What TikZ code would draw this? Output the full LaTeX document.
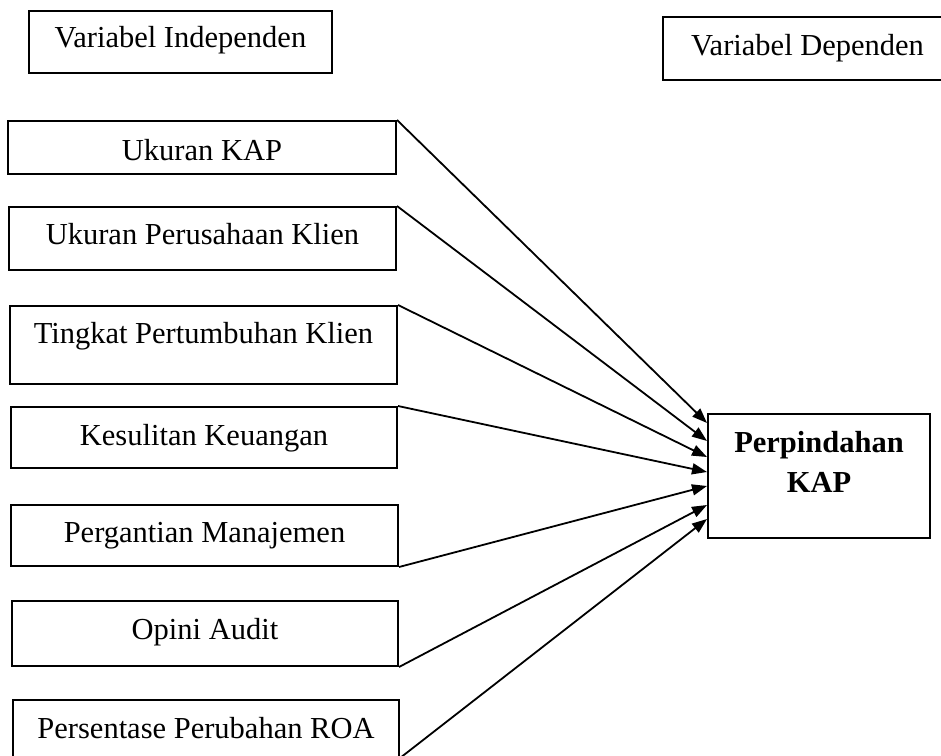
\documentclass[tikz,border=0pt]{standalone}
\usepackage{fontspec}
\setmainfont{Liberation Serif}
\usetikzlibrary{arrows.meta,calc}
\begin{document}
\begin{tikzpicture}[x=1pt,y=-1pt,
  box/.style={draw, line width=2pt, inner sep=0pt, text height=30pt,
    font=\fontsize{30.5}{40}\selectfont},
  arr/.style={line width=1.8pt, -{Triangle[length=15pt,width=11pt]}}]
\useasboundingbox (0,0) rectangle (941,755);
\clip (0,0) rectangle (941,755);
% header boxes
\node[box, minimum width=303pt, minimum height=62pt, text depth=20pt] (vi) at (180.5,42) {Variabel Independen};
\node[box, minimum width=289pt, minimum height=63pt, text depth=17pt] (vd) at (807.5,48.5) {Variabel Dependen};
% independent variables
\node[box, minimum width=388pt, minimum height=53pt, text depth=5pt] (uk) at (202,147.5) {Ukuran KAP};
\node[box, minimum width=387pt, minimum height=63pt, text depth=19pt] (up) at (202.5,238.5) {Ukuran Perusahaan Klien};
\node[box, minimum width=387pt, minimum height=78pt, text depth=34pt] (tp) at (203.5,345) {Tingkat Pertumbuhan Klien};
\node[box, minimum width=386pt, minimum height=61pt, text depth=15pt] (kk) at (204,437.5) {Kesulitan Keuangan};
\node[box, minimum width=387pt, minimum height=61pt, text depth=17pt] (pm) at (204.5,535.5) {Pergantian Manajemen};
\node[box, minimum width=386pt, minimum height=65pt, text depth=19pt] (oa) at (205,633.5) {Opini Audit};
\node[box, minimum width=386pt, minimum height=57pt, text depth=11pt] (pr) at (206,728.5) {Persentase Perubahan ROA};
% dependent variable
\node[box, minimum width=222pt, minimum height=124pt, text depth=78pt] (pk) at (819,476)
  {\bfseries\begin{tabular}[t]{@{}c@{}}Perpindahan\\KAP\end{tabular}};
% arrows
\draw[arr] (uk.north east) -- ($(pk.north west)+(0,10)$);
\draw[arr] (up.north east) -- ($(pk.north west)+(0,28)$);
\draw[arr] (tp.north east) -- ($(pk.north west)+(0,44)$);
\draw[arr] (kk.north east) -- ($(pk.north west)+(0,59)$);
\draw[arr] (pm.south east) -- ($(pk.north west)+(0,73)$);
\draw[arr] (oa.south east) -- ($(pk.north west)+(0,92)$);
\draw[arr] (pr.south east) -- ($(pk.north west)+(0,106)$);
\end{tikzpicture}
\end{document}
